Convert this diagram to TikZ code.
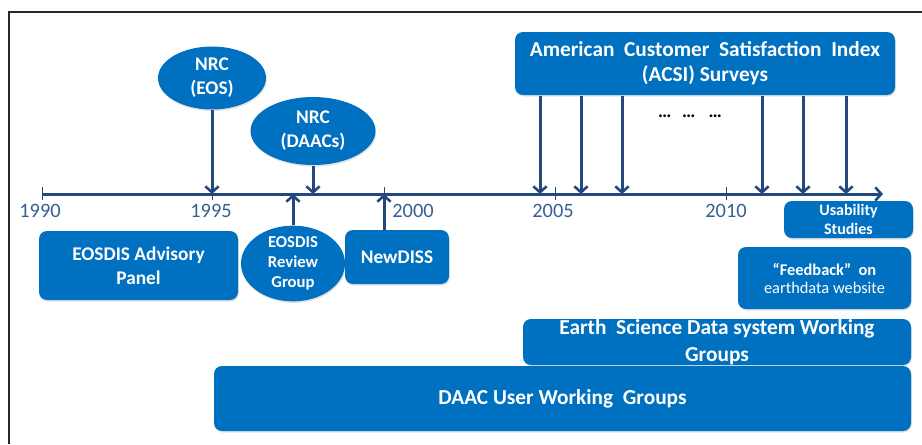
\documentclass[tikz,border=0pt]{standalone}
\usepackage{fontspec}
\setmainfont{Carlito}
\usetikzlibrary{arrows.meta,shapes.geometric,shadows}

\definecolor{boxblue}{RGB}{0,112,192}
\definecolor{linenavy}{RGB}{34,72,126}
\definecolor{yearblue}{RGB}{54,96,146}
\definecolor{framegray}{RGB}{40,40,40}

\tikzset{every picture/.style={line width=0.75pt}}
\tikzset{
  softshadow/.style={drop shadow={opacity=0.22,shadow xshift=0.6pt,shadow yshift=-1.2pt}},
  blockbox/.style={fill=boxblue, rounded corners=6pt, text=white, align=center, inner sep=0pt, softshadow},
  bubble/.style={ellipse, fill=boxblue, text=white, align=center, inner sep=0pt, softshadow},
  timearrow/.style={draw=linenavy, line width=2.25pt, -{Straight Barb[length=4.5pt,width=10pt,line width=1.9pt]}},
  tickmark/.style={draw=linenavy, line width=0.75pt},
  yearlabel/.style={text=yearblue, font=\fontsize{15.3}{17}\selectfont, inner sep=0.75pt}
}

\begin{document}
\begin{tikzpicture}[x=0.75pt,y=0.75pt,yscale=-1,xscale=1]
    \useasboundingbox (0,0) rectangle (922,444);

    %Frame
    \draw [framegray, line width=1.1pt] (9,444) -- (9,12) -- (922,12) ;

    %Time axis and year ticks
    \coordinate (axis) at (42,194);
    \coordinate (t1990) at (42,194);
    \coordinate (t1995) at (212,194);
    \coordinate (t2000) at (384,194);
    \coordinate (t2005) at (555,194);
    \coordinate (t2010) at (726,194);
    \coordinate (tend) at (883,194);
    \draw [timearrow] (t1990) -- (tend) ;
    \foreach \t in {t1990,t1995,t2000,t2005,t2010}
        \draw [tickmark] ([yshift=-5pt]\t) -- ([yshift=4.5pt]\t) ;

    % Year labels
    \node [yearlabel] (y1990) at (40,211) {1990};
    \node [yearlabel] (y1995) at (211,211) {1995};
    \node [yearlabel] (y2000) at (413,211) {2000};
    \node [yearlabel] (y2005) at (553,211) {2005};
    \node [yearlabel] (y2010) at (726,211) {2010};

    % Ellipses above the axis
    \node [bubble, minimum width=81pt, minimum height=47.25pt, font=\fontsize{14.5}{18}\selectfont\bfseries] (eos) at (212,78) {NRC\\(EOS)};
    \node [bubble, minimum width=93.75pt, minimum height=51pt, font=\fontsize{14.5}{18}\selectfont\bfseries] (daacs) at (313,131) {NRC\\(DAACs)};

    % Boxes below the axis
    \node [blockbox, minimum width=149.25pt, minimum height=51.75pt, font=\fontsize{14.5}{18}\selectfont\bfseries] (advisory) at (138.5,265.5) {EOSDIS Advisory\\Panel};
    \node [bubble, minimum width=78pt, minimum height=49.5pt, font=\fontsize{12.5}{15}\selectfont\bfseries] (review) at (293,263.5) {EOSDIS\\Review\\Group};
    \node [blockbox, minimum width=78pt, minimum height=40.5pt, font=\fontsize{14.5}{18}\selectfont\bfseries] (newdiss) at (397,257) {NewDISS};

    % Survey box and its arrows
    \node [blockbox, minimum width=285pt, minimum height=47.25pt, font=\fontsize{16}{20}\selectfont\bfseries] (acsi) at (705,63.5) {\raisebox{-1.5pt}{American\ \ Customer\ \ Satisfaction\ \ Index}\\(ACSI) Surveys};
    \foreach \x [count=\i] in {540,581,622,762,803,846} {
        \coordinate (s\i) at (\x,194);
        \draw [timearrow] (acsi.south -| s\i) -- (s\i) ;
    }
    \node [font=\fontsize{14}{16}\selectfont\bfseries, inner sep=0pt] (dots) at (690,116) {…\hspace{8pt}…\hspace{10pt}…};

    % Later activities
    \node [blockbox, minimum width=96.75pt, minimum height=27.75pt, font=\fontsize{12}{14}\selectfont\bfseries] (usability) at (848.5,219.5) {Usability\\Studies};
    \node [blockbox, minimum width=129.75pt, minimum height=46.5pt, font=\fontsize{12.3}{13.5}\selectfont] (feedback) at (824.5,278) {\textbf{“Feedback”\ \ on}\\earthdata website};
    \node [blockbox, minimum width=291pt, minimum height=34.5pt, font=\fontsize{16}{20}\selectfont\bfseries] (esdswg) at (717,342) {Earth\ \ Science Data system Working\\Groups};
    \node [blockbox, minimum width=522.75pt, minimum height=48.75pt, font=\fontsize{16}{20}\selectfont\bfseries] (uwg) at (562.5,398.5) {DAAC User Working\ \ Groups};

    %Arrows to the axis
    \draw [timearrow] (eos) -- (eos |- axis) ;
    \draw [timearrow] (daacs) -- (daacs |- axis) ;
    \draw [timearrow] (review) -- (review |- axis) ;
    \draw [timearrow] (newdiss.north -| t2000) -- (t2000) ;
\end{tikzpicture}
\end{document}
